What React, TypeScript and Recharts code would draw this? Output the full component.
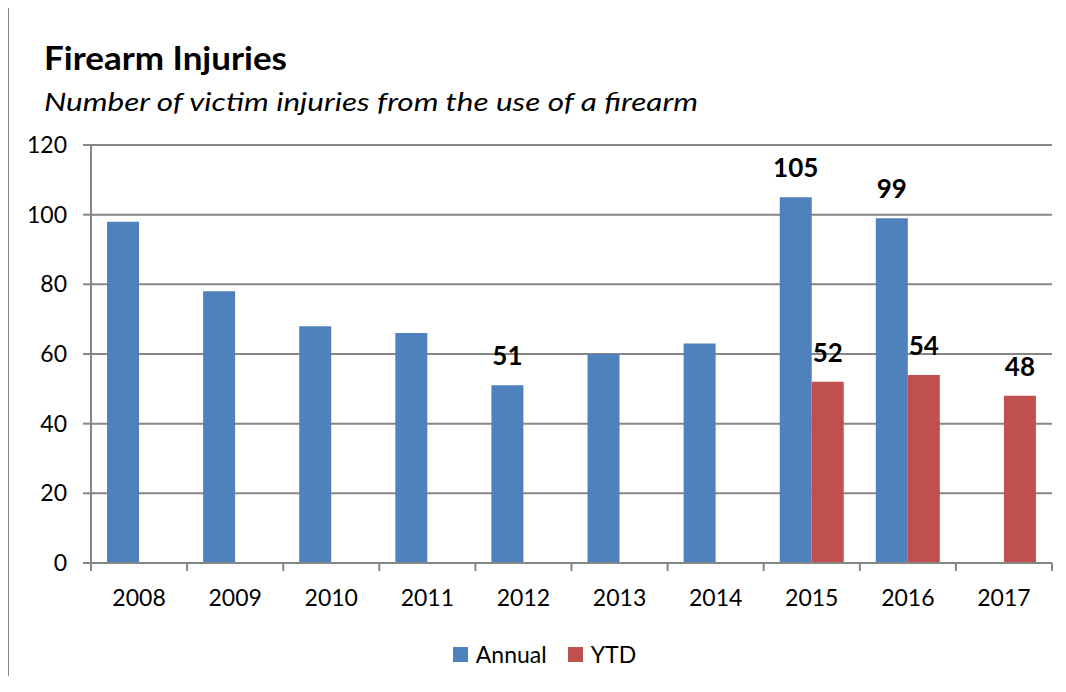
import * as React from "react";
import {
  BarChart,
  Bar,
  XAxis,
  YAxis,
  CartesianGrid,
  Legend,
  LabelList
} from "recharts";

// values
const years = ["2008", "2009", "2010", "2011", "2012", "2013", "2014", "2015", "2016", "2017"];
const annual = [98, 78, 68, 66, 51, 60, 63, 105, 99, null];
const ytd = [null, null, null, null, null, null, null, 52, 54, 48];
// only some bars carry a value label
const annualLabels = [null, null, null, null, 51, null, null, 105, 99, null];
const ytdLabels = [null, null, null, null, null, null, null, 52, 54, 48];
const yTicks = [0, 20, 40, 60, 80, 100, 120];

const data = years.map((year, i) => ({
  year,
  Annual: annual[i],
  YTD: ytd[i],
  annualLabel: annualLabels[i],
  ytdLabel: ytdLabels[i]
}));

const FONT = "Lato, 'Open Sans', sans-serif";
const GRID = "#868686";
const BLUE = "#4F81BD";
const RED = "#C0504D";

const XTick = (props: any) => {
  const { x, y, payload, index } = props;
  const half = payload && payload.offset ? payload.offset : 48;
  const axisY = y - 27;
  return (
    <g>
      <line x1={x - half} x2={x - half} y1={axisY} y2={axisY + 8} stroke={GRID} strokeWidth={2} />
      {index === years.length - 1 && (
        <line x1={x + half} x2={x + half} y1={axisY} y2={axisY + 8} stroke={GRID} strokeWidth={2} />
      )}
      <text x={x} y={y} dy="0.71em" textAnchor="middle" fill="#000" fontSize={23} fontFamily={FONT}>
        {payload.value}
      </text>
    </g>
  );
};

const LegendContent = (props: any) => {
  const { payload } = props;
  return (
    <div style={{ display: "flex", justifyContent: "center", fontFamily: FONT, fontSize: 23, height: 26 }}>
      {(payload || []).map((p: any) => (
        <div key={p.value} style={{ display: "flex", alignItems: "center", marginRight: 21 }}>
          <span style={{ width: 15, height: 15, background: p.color, display: "inline-block", marginRight: 8 }} />
          <span style={{ color: "#000" }}>{p.value}</span>
        </div>
      ))}
    </div>
  );
};

const App = () => {
  return (
    <div style={{ position: "relative", width: 1066, height: 684, margin: -8, overflow: "hidden", background: "#fff" }}>
      <div
        style={{
          position: "absolute",
          left: 7,
          top: 6,
          width: 1070,
          height: 700,
          borderLeft: `2px solid ${GRID}`,
          borderTop: `2px solid ${GRID}`
        }}
      />
      <svg style={{ position: "absolute", left: 0, top: 0 }} width={1066} height={130}>
        <text x={44} y={70} fontFamily={FONT} fontWeight="bold" fontSize={33} fill="#000" textLength={243} lengthAdjust="spacingAndGlyphs">
          Firearm Injuries
        </text>
        <text x={44} y={111} fontFamily={FONT} fontStyle="italic" fontSize={26} fill="#000" textLength={654} lengthAdjust="spacingAndGlyphs">
          Number of victim injuries from the use of a firearm
        </text>
      </svg>
      <div style={{ position: "absolute", left: 0, top: 0 }}>
        <BarChart
          width={1066}
          height={684}
          data={data}
          margin={{ top: 145, right: 14, left: 0, bottom: 65 }}
          barCategoryGap="16.67%"
          barGap={0}
        >
          <CartesianGrid vertical={false} stroke={GRID} strokeWidth={2} />
          <XAxis
            dataKey="year"
            height={30}
            axisLine={{ stroke: GRID, strokeWidth: 2 }}
            tickLine={false}
            tickSize={8}
            tickMargin={19}
            interval={0}
            tick={<XTick />}
          />
          <YAxis
            width={91}
            domain={[0, 120]}
            ticks={yTicks}
            interval={0}
            axisLine={{ stroke: GRID, strokeWidth: 2 }}
            tickLine={{ stroke: GRID, strokeWidth: 2 }}
            tickSize={8}
            tickMargin={16}
            tick={{ fill: "#000", fontSize: 23, fontFamily: FONT }}
          />
          <Legend
            verticalAlign="bottom"
            content={<LegendContent />}
            wrapperStyle={{ position: "absolute", top: 641, left: 0, width: 1110 }}
          />
          <Bar dataKey="Annual" fill={BLUE} isAnimationActive={false}>
            <LabelList
              dataKey="annualLabel"
              position="top"
              offset={20}
              fill="#000"
              fontSize={26}
              fontWeight="bold"
              fontFamily={FONT}
            />
          </Bar>
          <Bar dataKey="YTD" fill={RED} isAnimationActive={false}>
            <LabelList
              dataKey="ytdLabel"
              position="top"
              offset={20}
              fill="#000"
              fontSize={26}
              fontWeight="bold"
              fontFamily={FONT}
            />
          </Bar>
        </BarChart>
      </div>
    </div>
  );
};

export default App;
